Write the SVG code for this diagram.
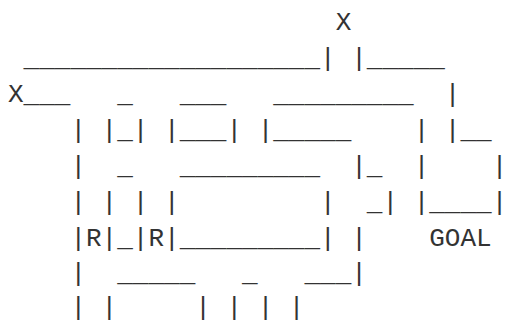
<svg xmlns="http://www.w3.org/2000/svg" width="507" height="323" viewBox="0 0 507 323">
<style>
text{font-family:"Liberation Mono","Courier New",monospace;font-size:26px;fill:#333;white-space:pre}
</style>
<rect width="507" height="323" fill="#fff"/>
<g id="maze" xml:space="preserve">
<text x="8" y="30">                     X</text>
<text x="8" y="66"> ___________________| |_____</text>
<text x="8" y="102">X___   _   ___   _________  |</text>
<text x="8" y="138">    | |_| |___| |_____    | |__</text>
<text x="8" y="174">    |  _   _________  |_  |    |</text>
<text x="8" y="210">    | | | |         |  _| |____|</text>
<text x="8" y="246">    |R|_|R|_________| |    GOAL</text>
<text x="8" y="281">    |  _____   _   ___|</text>
<text x="8" y="315">    | |     | | | |</text>
</g>
</svg>
